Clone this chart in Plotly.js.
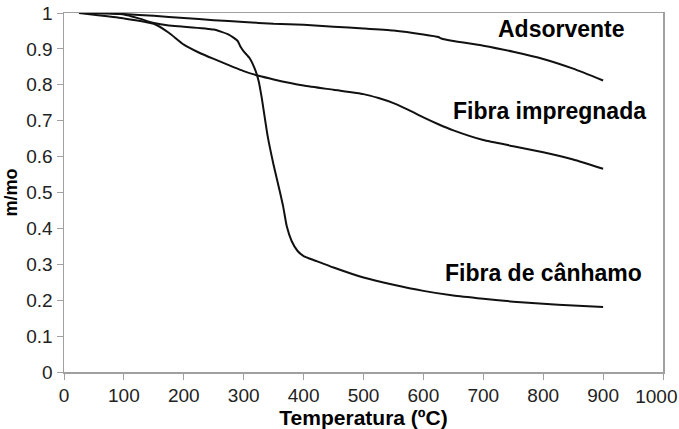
<!DOCTYPE html>
<html>
<head>
<meta charset="utf-8">
<script src="https://cdn.plot.ly/plotly-3.0.1.min.js"></script>
<style>html,body{margin:0;padding:0;background:#fff;}#chart{width:679px;height:429px;}</style>
</head>
<body>
<div id="chart"></div>
<script>
// Adsorvente
const tempAds = [25, 50, 75, 100, 150, 200, 250, 300, 350, 400, 450, 500, 550, 600, 625, 630, 650, 700, 750, 800, 850, 900];
const massAds = [1.0, 1.0, 0.999, 0.997, 0.992, 0.986, 0.98, 0.975, 0.97, 0.967, 0.962, 0.957, 0.951, 0.94, 0.933, 0.929, 0.922, 0.909, 0.892, 0.872, 0.845, 0.812];

// Fibra impregnada
const tempImp = [25, 50, 100, 150, 175, 200, 225, 250, 300, 325, 350, 400, 450, 500, 525, 550, 575, 600, 625, 650, 700, 750, 800, 850, 900];
const massImp = [1.0, 0.995, 0.985, 0.97, 0.945, 0.912, 0.89, 0.872, 0.838, 0.825, 0.815, 0.798, 0.786, 0.774, 0.763, 0.749, 0.73, 0.709, 0.69, 0.673, 0.646, 0.629, 0.612, 0.592, 0.566];

// Fibra de cânhamo
const tempHemp = [25, 50, 100, 125, 150, 175, 200, 250, 275, 290, 295, 300, 310, 320, 325, 330, 340, 350, 360, 366, 372, 380, 390, 400, 420, 450, 500, 550, 600, 650, 700, 750, 800, 850, 900];
const massHemp = [1.0, 1.0, 0.996, 0.985, 0.972, 0.965, 0.962, 0.954, 0.94, 0.922, 0.905, 0.893, 0.874, 0.838, 0.81, 0.765, 0.657, 0.576, 0.505, 0.46, 0.405, 0.365, 0.337, 0.323, 0.31, 0.291, 0.263, 0.243, 0.226, 0.213, 0.204, 0.196, 0.19, 0.185, 0.181];

const labels = ["Adsorvente", "Fibra impregnada", "Fibra de cânhamo"];
const xTicks = [0, 100, 200, 300, 400, 500, 600, 700, 800, 900, 1000];
const yTicks = [0, 0.1, 0.2, 0.3, 0.4, 0.5, 0.6, 0.7, 0.8, 0.9, 1];
const xMax = xTicks[xTicks.length - 1];
// the last label (1000) is drawn by a helper axis so it can sit inside the picture, as in the original
const xTickText = xTicks.map(v => v === xMax ? '' : String(v));

const lineStyle = {color: '#111', width: 2, shape: 'spline', smoothing: 0.5};
const traces = [
  {x: tempAds, y: massAds, name: labels[0], mode: 'lines', line: lineStyle},
  {x: tempImp, y: massImp, name: labels[1], mode: 'lines', line: lineStyle},
  {x: tempHemp, y: massHemp, name: labels[2], mode: 'lines', line: lineStyle},
  {x: [], y: [], xaxis: 'x2', yaxis: 'y', mode: 'lines', hoverinfo: 'skip', showlegend: false}
];

const tickFont = {family: 'Liberation Sans, Arial, sans-serif', size: 19, color: '#222'};
const annFont = {family: 'Liberation Sans, Arial, sans-serif', size: 23, color: '#000'};
const layout = {
  width: 679, height: 429,
  margin: {l: 64, r: 16, t: 13, b: 57},
  paper_bgcolor: '#fff', plot_bgcolor: '#fff',
  showlegend: false,
  font: {family: 'Liberation Sans, Arial, sans-serif', color: '#222', size: 18},
  xaxis: {
    range: [0, xMax], tickvals: xTicks, ticktext: xTickText,
    showgrid: false, zeroline: false, showline: true, mirror: true,
    linecolor: '#a0a0a0', linewidth: 1.5,
    ticks: 'outside', ticklen: 6, tickcolor: '#a0a0a0', tickwidth: 1,
    tickfont: tickFont,
    title: {text: '<b>Temperatura (ºC)</b>', font: {size: 21, color: '#000'}, standoff: 4}
  },
  xaxis2: {
    overlaying: 'x', side: 'bottom', anchor: 'y',
    range: [0, xMax], tickvals: [xMax], ticktext: [String(xMax)],
    showgrid: false, zeroline: false, showline: false,
    ticks: 'outside', ticklen: 6, tickcolor: 'rgba(0,0,0,0)',
    ticklabelposition: 'outside left', ticklabelshift: 15, ticklabelstandoff: 7,
    tickfont: tickFont
  },
  yaxis: {
    range: [0, 1], tickvals: yTicks, ticktext: yTicks.map(String),
    showgrid: false, zeroline: false, showline: true, mirror: true,
    linecolor: '#a0a0a0', linewidth: 1.5,
    ticks: 'outside', ticklen: 6, tickcolor: '#a0a0a0', tickwidth: 1,
    tickfont: tickFont,
    title: {text: '<b>m/mo</b>', font: {size: 18, color: '#000'}, standoff: 4}
  },
  annotations: [
    {x: 831, y: 0.955, xref: 'x', yref: 'y', text: '<b>' + labels[0] + '</b>', showarrow: false, font: annFont, xanchor: 'center', yanchor: 'middle'},
    {x: 811, y: 0.727, xref: 'x', yref: 'y', text: '<b>' + labels[1] + '</b>', showarrow: false, font: annFont, xanchor: 'center', yanchor: 'middle'},
    {x: 801, y: 0.277, xref: 'x', yref: 'y', text: '<b>' + labels[2] + '</b>', showarrow: false, font: annFont, xanchor: 'center', yanchor: 'middle'}
  ]
};

Plotly.newPlot('chart', traces, layout, {displayModeBar: false, staticPlot: true});
</script>
</body>
</html>
